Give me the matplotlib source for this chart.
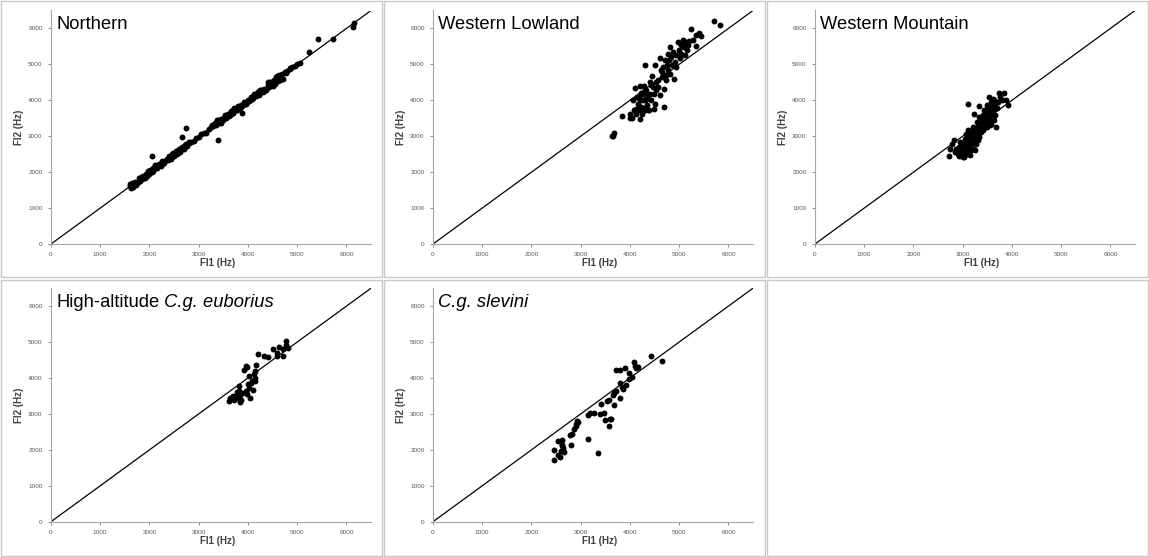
import numpy as np
import matplotlib.pyplot as plt
from matplotlib.patches import Rectangle

plt.rcParams['font.family'] = ['Liberation Sans', 'DejaVu Sans']

# ---- data (FI1, FI2 in Hz) ----
north_x = [1600, 1620, 1650, 1680, 1700, 1720, 1750, 1780, 1800, 1820, 1850, 1870, 1900, 1920,
           1950, 1980, 2000, 2020, 2050, 2080, 2100, 2130, 2160, 2200, 2230, 2260, 2300, 2330,
           2370, 2400, 2430, 2460, 2500, 2530, 2560, 2600, 2630, 2660, 2700, 2730, 2760, 2800,
           2850, 2900, 2950, 3000, 3050, 3100, 3150, 3200, 3250, 3300, 3330, 3360, 3400, 3430,
           3460, 3500, 3530, 3560, 3600, 3630, 3660, 3700, 3730, 3760, 3800, 3830, 3860, 3900,
           3930, 3960, 4000, 4030, 4060, 4100, 4130, 4160, 4200, 4230, 4260, 4300, 4330, 4360,
           4400, 4430, 4460, 4500, 4520, 4550, 4580, 4600, 4630, 4660, 4700, 4750, 4800, 4850,
           4900, 4950, 5000, 5050,
           1610, 1640, 1700, 1760, 1830, 1880, 1960, 2010, 2070, 2150, 2210, 2280, 2350, 2450,
           2550, 2620, 2680, 2750, 3380, 3450, 3520, 3580, 3650, 3720, 3780, 3850, 3920, 3980,
           4050, 4120, 4180, 4250, 4320, 4400, 4480, 4540, 4570, 4620, 4680, 4720, 4780,
           2050, 2660, 2740, 2800, 3390, 3880, 5250, 5420, 5730, 6140, 6150,
           1660, 1730, 1790, 1900, 1990, 2120, 2240, 2390, 2480, 2590, 2710, 3280, 3420, 3540,
           3610, 3690, 3810, 3950, 4080, 4220, 4350, 4440, 4500, 4600, 4650, 4850]
north_y = [1680, 1560, 1600, 1640, 1720, 1650, 1700, 1760, 1740, 1860, 1800, 1900, 1840, 1960,
           1900, 2020, 1980, 2060, 2000, 2110, 2080, 2150, 2120, 2240, 2180, 2300, 2260, 2340,
           2330, 2440, 2380, 2500, 2460, 2580, 2500, 2640, 2570, 2700, 2650, 2760, 2720, 2800,
           2830, 2880, 2950, 2970, 3060, 3080, 3100, 3200, 3270, 3290, 3360, 3320, 3440, 3400,
           3480, 3440, 3560, 3500, 3620, 3580, 3700, 3660, 3760, 3720, 3840, 3780, 3880, 3860,
           3960, 3900, 4020, 3980, 4100, 4060, 4140, 4120, 4220, 4160, 4300, 4240, 4320, 4280,
           4420, 4380, 4520, 4460, 4560, 4500, 4640, 4560, 4700, 4620, 4720, 4780, 4820, 4880,
           4940, 4960, 5010, 5040,
           1620, 1700, 1680, 1720, 1820, 1860, 1940, 2000, 2040, 2180, 2200, 2260, 2380, 2420,
           2600, 2580, 2660, 2780, 3440, 3380, 3520, 3560, 3620, 3780, 3740, 3820, 3900, 3960,
           4020, 4180, 4200, 4280, 4280, 4500, 4420, 4460, 4620, 4540, 4640, 4600, 4760,
           2440, 2970, 3220, 2850, 2890, 3650, 5350, 5720, 5720, 6050, 6160,
           1580, 1660, 1830, 1880, 1940, 2200, 2210, 2360, 2540, 2560, 2740, 3320, 3380, 3580,
           3560, 3740, 3780, 3900, 4040, 4260, 4300, 4500, 4400, 4680, 4560, 4900]

wl_x = [3629, 3656, 3676, 3839, 3995, 4008, 4049, 4096, 4062, 4076, 4130, 4164, 4184, 4198,
        4211, 4232, 4245, 4265, 4279, 4299, 4313, 4333, 4347, 4367, 4387, 4401, 4421, 4435,
        4455, 4482, 4502, 4516, 4536, 4570, 4604, 4604, 4624, 4644, 4671, 4692, 4705, 4726,
        4739, 4753, 4773, 4793, 4807, 4821, 4841, 4861, 4875, 4909, 4929, 4942, 4976, 4997,
        5010, 5030, 5044, 5064, 5098, 5132, 5159, 5200, 5247, 5281, 5335, 5348, 5403, 5450,
        5701, 5836,
        4143, 4198, 4232, 4265, 4299, 4333, 4367, 4198, 4164, 4265, 4313, 4130, 4401, 4468,
        4482, 4536, 4576, 4658, 4685, 4773, 4889, 5078, 5111, 5179]
wl_y = [2999, 2999, 3101, 3565, 3519, 3612, 3519, 4355, 4002, 3742, 3770, 3909, 4095, 4392,
        3491, 4206, 3630, 3798, 4410, 4002, 4995, 4280, 3863, 4141, 3723, 4513, 4420, 4002,
        4670, 3770, 4977, 3909, 4513, 4559, 5190, 4141, 4837, 4652, 4930, 3816, 5116, 4698,
        4559, 4977, 4837, 5116, 5488, 4744, 5209, 4977, 5348, 5070, 5255, 4930, 5627, 5395,
        5190, 5534, 5302, 5581, 5488, 5627, 5395, 5655, 5998, 5674, 5813, 5506, 5878, 5785,
        6212, 6091,
        4095, 4002, 3816, 4002, 3723, 4048, 3723, 3723, 3723, 4188, 4280, 3630, 4188, 4373,
        4188, 4280, 4373, 4791, 4327, 5302, 4605, 5674, 5255, 5534]

wm_x = [2727, 2747, 2781, 2815, 2835, 2862, 2896, 2930, 2963, 2984, 2997, 3018, 3038, 3051,
        3065, 3085, 3099, 3112, 3119, 3133, 3146, 3166, 3187, 3200, 3214, 3227, 3234, 3254,
        3268, 3281, 3302, 3322, 3336, 3336, 3356, 3370, 3390, 3404, 3417, 3438, 3458, 3471,
        3485, 3498, 3512, 3525, 3539, 3553, 3566, 3580, 3593, 3606, 3620, 3640, 3660, 3674,
        3708, 3728, 3755, 3796, 3836, 3877, 3911,
        3065, 3099, 3146, 3200, 3234, 3302, 3268, 3166, 3031, 3370, 3438, 3505, 3573, 3471,
        3539, 2930, 3200, 3336, 2950, 3010, 3080, 3120, 3180, 3250, 3300, 3350, 3420, 3480,
        3550, 3600, 3650, 3560, 3620,
        2880, 2920, 2970, 3000, 3040, 3080, 3110, 3150, 3190, 3230, 3260, 3290, 3330, 3380,
        3410, 3450, 3490, 3520, 3540, 3570, 3590, 3610, 3630, 3580, 3540, 3600, 3660, 3700]
wm_y = [2442, 2655, 2795, 2887, 2563, 2655, 2516, 2702, 2563, 2795, 2423, 2655, 2934, 2535,
        2748, 2516, 2887, 3909, 2655, 3027, 2470, 2795, 3092, 2655, 3213, 3612, 2887, 2628,
        3073, 3398, 3259, 2980, 3835, 3166, 3333, 3120, 3445, 3259, 3584, 3398, 3723, 3538,
        3352, 3863, 3630, 4095, 3445, 3723, 3956, 3538, 3816, 4048, 3630, 4002, 3891, 3259,
        3956, 4206, 4095, 4002, 4206, 4002, 3863,
        3073, 3166, 2887, 2980, 3120, 2887, 2795, 2609, 2423, 3538, 3723, 3723, 3630, 3352,
        3816, 2442, 3259, 3538, 2850, 2700, 2900, 3000, 3050, 3150, 3200, 3300, 3400, 3500,
        3600, 3700, 3850, 3300, 3500,
        2600, 2520, 2700, 2600, 2820, 2620, 2760, 2950, 2850, 3000, 2950, 3150, 3080, 3250,
        3180, 3300, 3250, 3420, 3700, 3900, 3600, 3750, 3450, 3350, 3560, 3950, 3600, 3780]

eu_x = [3612, 3646, 3693, 3713, 3768, 3795, 3815, 3836, 3849, 3863, 3822, 3883, 3951, 3985,
        4039, 3917, 3951, 3985, 4019, 3999, 4053, 4087, 4134, 4141, 4155, 4121, 4134, 4209,
        4325, 4413, 4515, 4596, 4637, 4596, 4705, 4718, 4773, 4779, 4813, 4019, 4107, 3740,
        3780]
eu_y = [3370, 3445, 3491, 3398, 3538, 3445, 3630, 3333, 3519, 3398, 3788, 3584, 3630, 3556,
        3445, 4234, 4327, 4299, 4048, 3835, 3863, 3909, 4002, 4188, 4355, 4113, 3909, 4670,
        4624, 4578, 4819, 4624, 4856, 4698, 4624, 4800, 5023, 4930, 4837, 3723, 3677, 3480,
        3600]

sl_x = [2451, 2451, 2539, 2539, 2573, 2627, 2627, 2640, 2640, 2607, 2661, 2620, 2796, 2776,
        2830, 2864, 2897, 2911, 2931, 2938, 3142, 3155, 3182, 3263, 3345, 3392, 3412, 3473,
        3500, 3527, 3575, 3588, 3575, 3622, 3649, 3670, 3676, 3710, 3710, 3805, 3791, 3805,
        3832, 3859, 3906, 3927, 3981, 3981, 4049, 4089, 4103, 4130, 4157, 4435, 4658]
sl_y = [1708, 1996, 2238, 1866, 1792, 2284, 2145, 2052, 1959, 1959, 1950, 2145, 2145, 2423,
        2442, 2590, 2655, 2720, 2813, 2767, 2312, 2962, 3027, 3027, 1922, 2999, 3278, 3027,
        2841, 3352, 3398, 2850, 2665, 2850, 3528, 3259, 3575, 3630, 4234, 4234, 3445, 3853,
        3760, 3695, 4280, 3816, 4150, 3965, 4020, 4448, 4345, 4280, 4299, 4605, 4475]

# (plain part, italic part) of each panel title
titles = [('Northern', ''), ('Western Lowland', ''), ('Western Mountain', ''),
          ('High-altitude', ' C.g. euborius'), ('', 'C.g. slevini')]
xs = [north_x, wl_x, wm_x, eu_x, sl_x]
ys = [north_y, wl_y, wm_y, eu_y, sl_y]
ticks = [0, 1000, 2000, 3000, 4000, 5000, 6000]

W, H = 1149, 557
fig = plt.figure(figsize=(W / 100, H / 100), dpi=100)

# panel frames
for r in range(2):
    for c in range(3):
        fig.add_artist(Rectangle((c * 383 / W + 0.001, (1 - (r + 1) * 278.5 / H) + 0.002),
                                 383 / W - 0.002, 278.5 / H - 0.004, transform=fig.transFigure,
                                 fill=False, edgecolor='#c8c8c8', lw=1))

lefts = [51, 433, 815]
bottoms = [244, 521.7]
for i in range(5):
    r, c = divmod(i, 3)
    ax = fig.add_axes([lefts[c] / W, (H - bottoms[r]) / H, 320 / W, 233.5 / H])
    ax.plot([0, 6500], [0, 6500], color='black', lw=0.9, zorder=1)
    ax.scatter(xs[i], ys[i], s=18, color='black', zorder=2, linewidths=0)
    ax.set_xlim(0, 6500)
    ax.set_ylim(0, 6500)
    ax.set_xticks(ticks)
    ax.set_yticks(ticks)
    ax.tick_params(labelsize=4.6, colors='#7f7f7f', labelcolor='#595959', length=2.5, width=0.6)
    for s in ['top', 'right']:
        ax.spines[s].set_visible(False)
    for s in ['left', 'bottom']:
        ax.spines[s].set_color('#a6a6a6')
        ax.spines[s].set_linewidth(0.8)
    ax.set_xlabel('FI1 (Hz)', fontsize=7, fontweight='bold', color='#404040')
    ax.xaxis.set_label_coords(0.52, -0.06)
    ax.set_ylabel('FI2 (Hz)', fontsize=7, fontweight='bold', color='#404040', labelpad=3)
    plain, ital = titles[i]
    if plain:
        t = ax.text(0.016, 0.975, plain, transform=ax.transAxes, fontsize=13.2,
                    va='top', ha='left')
        if ital:
            ax.annotate(ital, xy=(1, 0), xycoords=t, fontsize=13.2, style='italic',
                        va='bottom', ha='left')
    else:
        ax.text(0.016, 0.975, ital, transform=ax.transAxes, fontsize=13.2, style='italic',
                va='top', ha='left')

fig.savefig('out.png', dpi=100)
